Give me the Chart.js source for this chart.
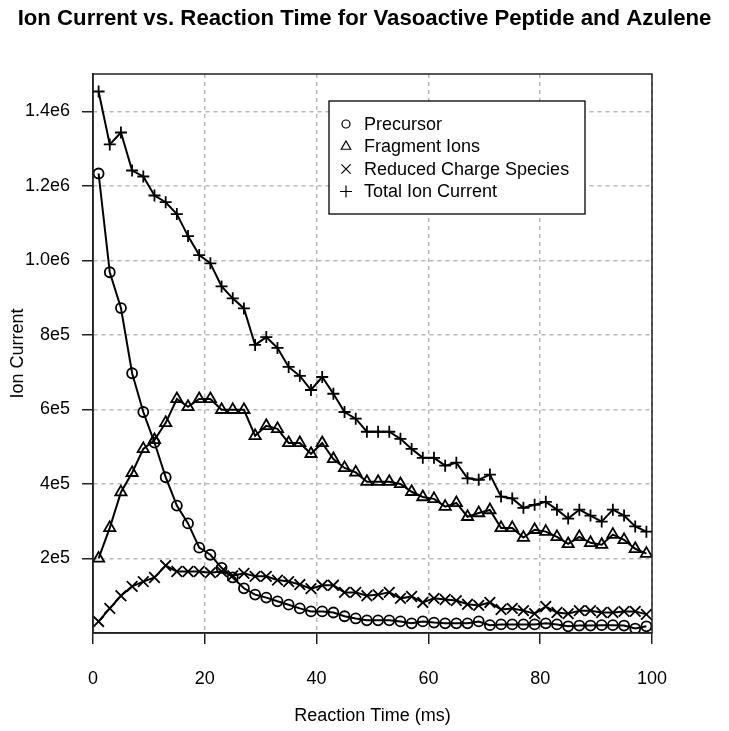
<!DOCTYPE html>
<html>
<head>
<meta charset="utf-8">
<script src="https://cdn.jsdelivr.net/npm/chart.js@4.4.1/dist/chart.umd.min.js"></script>
<style>
  body { margin: 0; background: #fff; }
</style>
</head>
<body>
<canvas id="ionChart" width="729" height="731"></canvas>
<script>
// --- data ---
const xTimes = [1, 3, 5, 7, 9, 11, 13, 15, 17, 19, 21, 23, 25, 27, 29, 31, 33, 35, 37, 39,
  41, 43, 45, 47, 49, 51, 53, 55, 57, 59, 61, 63, 65, 67, 69, 71, 73, 75, 77, 79,
  81, 83, 85, 87, 89, 91, 93, 95, 97, 99];

const precursor = [1233000, 968000, 872000, 697000, 593000, 511000, 418000, 342000, 294000, 229000,
  210000, 175000, 149000, 120000, 103000, 95000, 85000, 76000, 66000, 58000,
  58000, 55000, 45000, 39000, 34000, 34000, 34000, 31000, 26000, 31000,
  28000, 26000, 26000, 26000, 31000, 21000, 23000, 23000, 23000, 23000,
  26000, 23000, 18000, 20000, 20000, 21000, 21000, 20000, 12000, 18000];

const fragment = [200000, 282000, 378000, 430000, 494000, 518000, 564000, 628000, 607000, 628000,
  628000, 599000, 599000, 599000, 529000, 556000, 548000, 510000, 510000, 481000,
  510000, 467000, 443000, 431000, 406000, 406000, 406000, 400000, 379000, 365000,
  360000, 339000, 349000, 312000, 322000, 330000, 282000, 282000, 256000, 277000,
  272000, 258000, 239000, 258000, 242000, 237000, 264000, 250000, 226000, 213000];

const reduced = [31000, 66000, 100000, 125000, 138000, 149000, 181000, 165000, 165000, 165000,
  162000, 165000, 154000, 160000, 152000, 152000, 142000, 138000, 130000, 119000,
  128000, 128000, 109000, 109000, 100000, 103000, 109000, 93000, 98000, 82000,
  93000, 90000, 87000, 77000, 74000, 82000, 63000, 66000, 60000, 52000,
  71000, 55000, 52000, 60000, 60000, 55000, 55000, 58000, 58000, 50000];

const totalIon = [1453000, 1311000, 1343000, 1241000, 1225000, 1174000, 1156000, 1124000, 1065000, 1014000,
  992000, 930000, 898000, 871000, 773000, 794000, 765000, 714000, 690000, 652000,
  687000, 642000, 593000, 575000, 540000, 540000, 540000, 521000, 494000, 470000,
  470000, 449000, 457000, 415000, 411000, 425000, 366000, 361000, 336000, 344000,
  352000, 331000, 307000, 331000, 315000, 299000, 331000, 315000, 286000, 272000];

const seriesNames = ['Precursor', 'Fragment Ions', 'Reduced Charge Species', 'Total Ion Current'];
const yTicks = [200000, 400000, 600000, 800000, 1000000, 1200000, 1400000];
const yTickLabels = ['2e5', '4e5', '6e5', '8e5', '1.0e6', '1.2e6', '1.4e6'];
const chartTitle = 'Ion Current vs. Reaction Time for Vasoactive Peptide and Azulene';

const FONT = '"Liberation Sans", Arial, Helvetica, sans-serif';
Chart.defaults.font.family = FONT;
Chart.defaults.color = '#000';

const toPoints = ys => xTimes.map((x, i) => ({ x: x, y: ys[i] }));

function series(label, ys, style, radius) {
  return {
    label: label,
    data: toPoints(ys),
    borderColor: '#000',
    borderWidth: 2,
    pointStyle: style,
    pointRadius: radius,
    pointHoverRadius: radius,
    pointBorderWidth: 1.8,
    pointBorderColor: '#000',
    pointBackgroundColor: 'rgba(0,0,0,0)',
    fill: false,
    tension: 0
  };
}

// title centred on the page, box round the plot, legend top right (R style)
const frameAndLegend = {
  id: 'frameAndLegend',
  afterDatasetsDraw(chart) {
    const { ctx, chartArea: a } = chart;
    ctx.save();
    ctx.strokeStyle = '#222';
    ctx.lineWidth = 1.5;
    ctx.strokeRect(a.left, a.top, a.right - a.left, a.bottom - a.top);

    ctx.fillStyle = '#000';
    ctx.font = 'bold 22.2px ' + FONT;
    ctx.textAlign = 'center';
    ctx.textBaseline = 'middle';
    ctx.fillText(chartTitle, chart.width / 2, 19);

    // legend box
    const lx = 329, ly = 101, lw = 256, lh = 113;
    ctx.fillStyle = '#fff';
    ctx.fillRect(lx, ly, lw, lh);
    ctx.strokeStyle = '#000';
    ctx.lineWidth = 1.3;
    ctx.strokeRect(lx, ly, lw, lh);

    const legendRadius = [4, 5.5, 6.5, 6];
    ctx.font = '18px ' + FONT;
    ctx.textAlign = 'left';
    chart.data.datasets.forEach((ds, i) => {
      const y = ly + 23 + i * 22.5;
      ctx.strokeStyle = '#000';
      ctx.fillStyle = 'rgba(0,0,0,0)';
      ctx.lineWidth = 1.2;
      Chart.helpers.drawPoint(ctx, { pointStyle: ds.pointStyle, radius: legendRadius[i], rotation: 0, borderWidth: 1.2 }, lx + 17, y);
      ctx.fillStyle = '#000';
      ctx.fillText(ds.label, lx + 35, y + 1);
    });
    ctx.restore();
  }
};

new Chart(document.getElementById('ionChart'), {
  type: 'line',
  data: {
    datasets: [
      series(seriesNames[0], precursor, 'circle', 5),
      series(seriesNames[1], fragment, 'triangle', 6.5),
      series(seriesNames[2], reduced, 'crossRot', 7.5),
      series(seriesNames[3], totalIon, 'cross', 6)
    ]
  },
  options: {
    responsive: false,
    animation: false,
    devicePixelRatio: 1,
    layout: { padding: { left: 0, right: 77, top: 74, bottom: 0 } },
    plugins: {
      legend: { display: false },
      tooltip: { enabled: false },
      title: { display: false }
    },
    scales: {
      x: {
        type: 'linear',
        min: 0,
        max: 100,
        ticks: { stepSize: 20, padding: 24, font: { size: 18 }, maxRotation: 0 },
        grid: {
          color: '#b8b8b8', lineWidth: 1.5, tickLength: 11,
          tickColor: '#222', tickWidth: 1.5, tickBorderDash: []
        },
        border: { display: true, color: '#222', width: 1.5, dash: [4, 4] },
        title: {
          display: true, text: 'Reaction Time (ms)',
          font: { size: 18 }, padding: { top: 0, bottom: 4 }
        },
        afterFit: s => { s.height = 98; }
      },
      y: {
        type: 'linear',
        min: 0,
        max: 1500000,
        afterBuildTicks: s => { s.ticks = yTicks.map(v => ({ value: v })); },
        ticks: {
          padding: 12, font: { size: 18 },
          callback: v => { const i = yTicks.indexOf(v); return i >= 0 ? yTickLabels[i] : ''; }
        },
        grid: {
          color: '#b8b8b8', lineWidth: 1.5, tickLength: 11,
          tickColor: '#222', tickWidth: 1.5, tickBorderDash: []
        },
        border: { display: true, color: '#222', width: 1.5, dash: [4, 4] },
        title: {
          display: true, text: 'Ion Current',
          font: { size: 18 }, padding: { top: 7, bottom: 0 }
        },
        afterFit: s => { s.width = 93; }
      }
    }
  },
  plugins: [frameAndLegend]
});
</script>
</body>
</html>
